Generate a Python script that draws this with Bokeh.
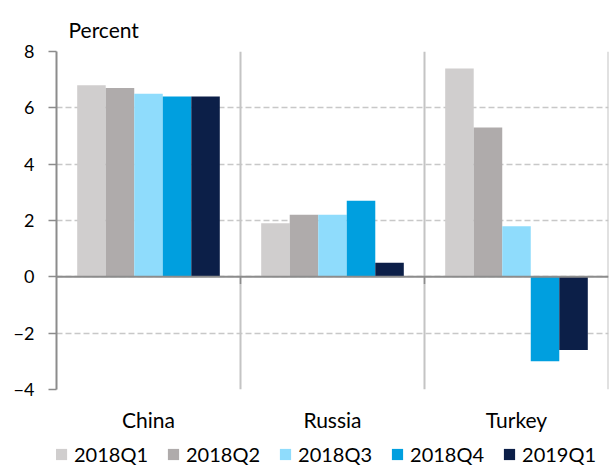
from bokeh.plotting import figure
from bokeh.models import (ColumnDataSource, Range1d, FactorRange, Span, Legend, LegendItem,
                          FixedTicker)
from bokeh.layouts import column
from bokeh.transform import dodge
from bokeh.embed import file_html
from bokeh.resources import INLINE

countries = ["China", "Russia", "Turkey"]
quarters = ["2018Q1", "2018Q2", "2018Q3", "2018Q4", "2019Q1"]
values = {
    "2018Q1": [6.8, 1.9, 7.4],
    "2018Q2": [6.7, 2.2, 5.3],
    "2018Q3": [6.5, 2.2, 1.8],
    "2018Q4": [6.4, 2.7, -3.0],
    "2019Q1": [6.4, 0.5, -2.6],
}
colors = ["#D0CECE", "#AFABAB", "#8FDCFC", "#009FDF", "#0C1F48"]
y_ticks = [-4, -2, 0, 2, 4, 6, 8]
y_label = "Percent"

FONT = "Lato"

src = ColumnDataSource(dict(country=countries, **values))

p = figure(width=609, height=436, x_range=FactorRange(*countries, range_padding=0),
           y_range=Range1d(-4, 8), output_backend="svg", toolbar_location=None,
           min_border_left=56, min_border_right=1, min_border_top=51, min_border_bottom=47)
p.outline_line_color = None
p.background_fill_color = "white"

p.title.text = y_label
p.title.align = "left"
p.title.offset = 12
p.title.text_font = FONT
p.title.text_font_size = "21px"
p.title.text_font_style = "normal"
p.title.text_color = "#000000"
p.title.standoff = 20

# grids
p.xgrid.grid_line_color = None
p.ygrid.ticker = FixedTicker(ticks=y_ticks)
p.ygrid.grid_line_color = "#C8C8C8"
p.ygrid.grid_line_dash = "6 3"
p.ygrid.grid_line_width = 1.5

# group separators (synthetic coordinates on the factor range)
for loc in [1, 2, 3]:
    p.add_layout(Span(location=loc, dimension="height", line_color="#C4C4C4", line_width=2,
                      level="underlay"))

offsets = [-0.31, -0.155, 0.0, 0.155, 0.31]
for q, c, off in zip(quarters, colors, offsets):
    p.vbar(x=dodge("country", off, range=p.x_range), top=q, bottom=0, width=0.155,
           source=src, fill_color=c, line_color=None)

p.add_layout(Span(location=0, dimension="width", line_color="#8C8C8C", line_width=2))
# small category-boundary ticks below the zero line
p.segment(x0=[1, 2], y0=[0, 0], x1=[1, 2], y1=[-0.25, -0.25], line_color="#8C8C8C", line_width=1.5)

# axes
p.yaxis.ticker = FixedTicker(ticks=y_ticks)
p.yaxis.axis_line_color = "#8C8C8C"
p.yaxis.axis_line_width = 2
p.yaxis.major_tick_line_color = "#8C8C8C"
p.yaxis.major_tick_line_width = 1.5
p.yaxis.major_tick_out = 8
p.yaxis.major_tick_in = 0
p.yaxis.minor_tick_line_color = None
p.yaxis.major_label_text_font = FONT
p.yaxis.major_label_text_font_size = "18px"
p.yaxis.major_label_text_color = "#000000"
p.yaxis.major_label_standoff = 14

p.xaxis.axis_line_color = None
p.xaxis.major_tick_line_color = None
p.xaxis.major_tick_out = 0
p.xaxis.major_tick_in = 0
p.xaxis.minor_tick_line_color = None
p.xaxis.major_label_text_font = FONT
p.xaxis.major_label_text_font_size = "21px"
p.xaxis.major_label_text_color = "#000000"
p.xaxis.major_label_standoff = 17

# legend strip (its frame is aligned with the chart frame by the column layout)
lg = figure(width=609, height=30, x_range=Range1d(0, 1), y_range=Range1d(100, 101),
            output_backend="svg", toolbar_location=None, x_axis_location=None,
            y_axis_location=None, min_border=0)
lg.outline_line_color = None
lg.grid.visible = False
items = []
for q, c in zip(quarters, colors):
    r = lg.vbar(x=0.5, top=q, bottom=0, width=0.1, source=src, fill_color=c, line_color=None)
    items.append(LegendItem(label=q, renderers=[r]))
legend = Legend(items=items, orientation="horizontal", location=(-2, 0),
                label_text_font=FONT, label_text_font_size="20px", label_text_color="#000000",
                glyph_width=14, glyph_height=14, spacing=18, label_standoff=6,
                padding=0, margin=0, border_line_color=None, background_fill_alpha=0)
lg.add_layout(legend, "center")

layout = column(p, lg, spacing=0)
open("out.html", "w").write(file_html(layout, INLINE))
